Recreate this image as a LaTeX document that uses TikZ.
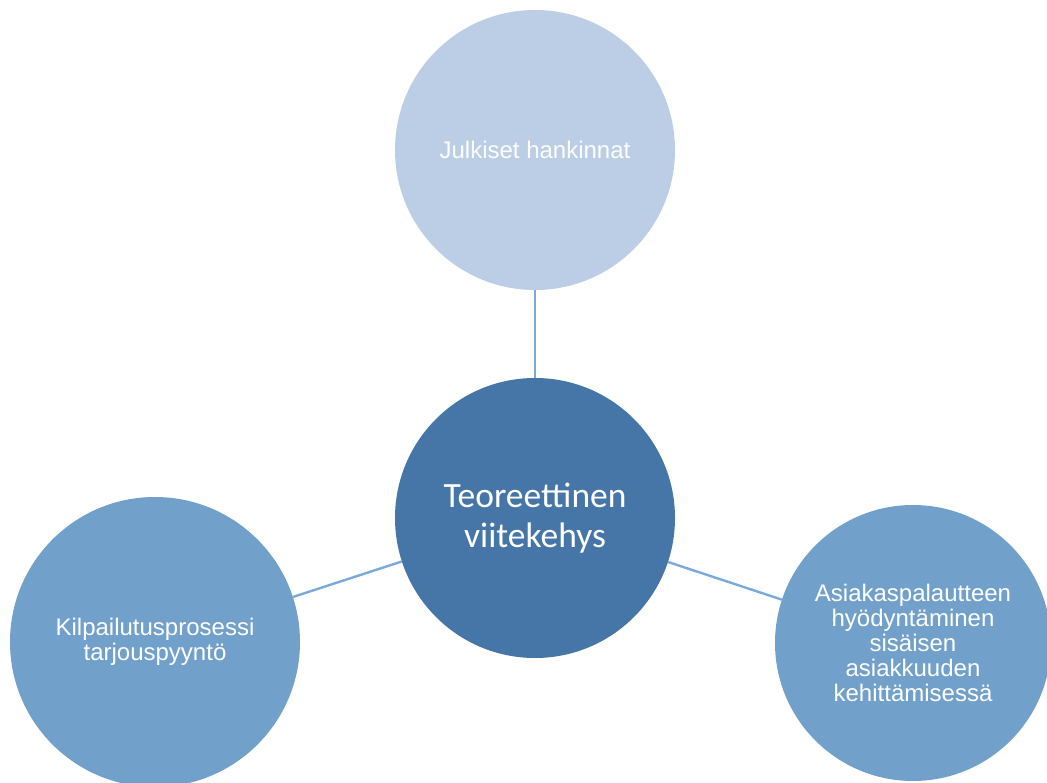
\documentclass[tikz,border=0pt]{standalone}
\usepackage{fontspec}
\setmainfont{Liberation Sans}
\newfontfamily\calibrifont{Carlito}
\usepackage{tikz}
\usetikzlibrary{positioning}

\definecolor{lightblob}{HTML}{BCCDE6}
\definecolor{darkblob}{HTML}{4676A8}
\definecolor{midblob}{HTML}{71A0CB}
\definecolor{linkblue}{HTML}{7AAADC}

\begin{document}
\begin{tikzpicture}[x=1pt, y=-1pt,
    blob/.style={circle, inner sep=0pt, align=center, text=white,
                 font=\fontsize{24}{25}\selectfont},
    link/.style={draw=linkblue, line width=2.4pt}]
    \useasboundingbox (0, 0) rectangle (1047, 783);

    % the four circles
    \node[blob, fill=darkblob, minimum size=280pt,
          font=\calibrifont\fontsize{35.5}{40}\selectfont] (frame) at (535, 518)
        {Teoreettinen\\viitekehys};
    \node[blob, fill=lightblob, minimum size=280pt, text=white!96!lightblob] (public) at (535, 150)
        {Julkiset hankinnat};
    \node[blob, fill=midblob, minimum size=290pt] (tender) at (155, 642)
        {Kilpailutusprosessi\\tarjouspyyntö};
    \node[blob, fill=midblob, minimum size=276pt] (feedback) at (913, 643)
        {Asiakaspalautteen\\hyödyntäminen\\sisäisen\\asiakkuuden\\kehittämisessä};

    % connectors
    \draw[link] (public) -- (frame);
    \draw[link] (tender) -- (frame);
    \draw[link] (frame) -- (feedback);
\end{tikzpicture}
\end{document}
